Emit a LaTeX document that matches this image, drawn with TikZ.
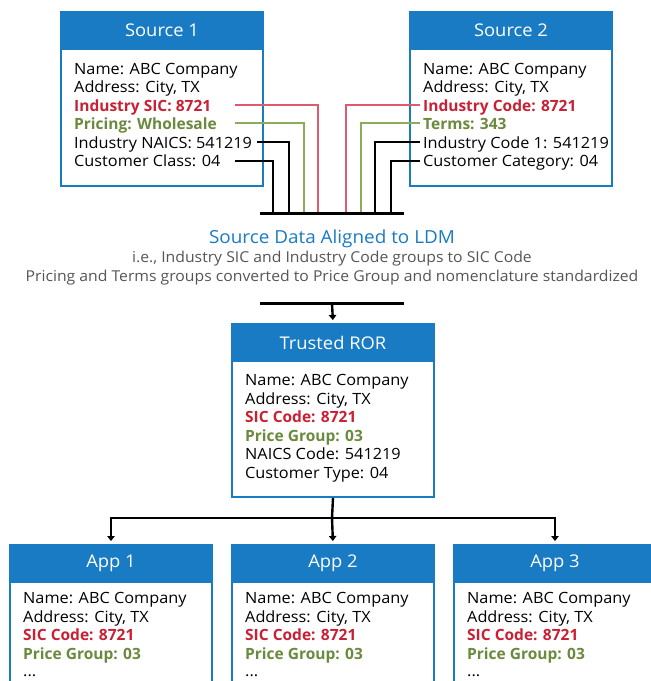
\documentclass[tikz,border=0pt]{standalone}
\usepackage{fontspec}
\setmainfont{Open Sans}
\newfontfamily\fieldfont[FakeStretch=1.05]{Open Sans}
\newfontfamily\keyfont{Open Sans}
\newfontfamily\notefont[FakeStretch=1.05]{Open Sans}
\usetikzlibrary{arrows.meta}
\definecolor{boxblue}{RGB}{24,123,195}
\definecolor{sicred}{RGB}{200,32,52}
\definecolor{pricegreen}{RGB}{106,138,62}
\definecolor{redwire}{RGB}{222,90,110}
\definecolor{greenwire}{RGB}{140,172,92}
\definecolor{notegray}{RGB}{85,85,85}
\tikzset{
  head/.style={draw=boxblue, fill=boxblue, line width=2pt, minimum width=202pt,
    minimum height=37pt, anchor=north west, inner sep=0pt, text=white,
    font=\fieldfont\fontsize{17.5}{20}\selectfont},
  panel/.style={draw=boxblue, fill=white, line width=2pt, minimum width=202pt,
    anchor=north west, inner sep=0pt},
  field/.style={anchor=base west, inner sep=0pt, font=\fieldfont\fontsize{15.5}{18}\selectfont},
  redfield/.style={field, text=sicred, font=\keyfont\fontsize{15.5}{18}\selectfont\bfseries},
  greenfield/.style={field, text=pricegreen, font=\keyfont\fontsize{15.5}{18}\selectfont\bfseries},
  wire/.style={line width=1.3pt, draw=black},
  redw/.style={wire, draw=redwire},
  greenw/.style={wire, draw=greenwire},
  busbar/.style={line width=3pt, draw=black},
  feed/.style={line width=2.4pt, draw=black, shorten >=3pt,
    -{Triangle[length=5pt,width=7.5pt]}},
  notetext/.style={anchor=base, inner sep=0pt, text=notegray,
    font=\notefont\fontsize{15}{18}\selectfont},
}
\begin{document}
\begin{tikzpicture}[x=1pt,y=-1pt]
\useasboundingbox (0,0) rectangle (651,681);
\clip (0,0) rectangle (651,681);

% ---------- Source 1 ----------
\node[panel, minimum height=137pt] (s1body) at (60,48) {};
\node[head] (s1) at (60,11) {Source 1};
\node[field]      (s1a) at (74,74)    {Name: ABC Company};
\node[field]      (s1b) at (74,92.5)  {Address: City, TX};
\node[redfield]   (s1c) at (74,111)   {Industry SIC: 8721};
\node[greenfield] (s1d) at (74,129.5) {Pricing: Wholesale};
\node[field]      (s1e) at (74,148)   {Industry NAICS: 541219};
\node[field]      (s1f) at (74,166.5) {Customer Class: 04};

% ---------- Source 2 ----------
\node[panel, minimum height=137pt] (s2body) at (409,48) {};
\node[head] (s2) at (409,11) {Source 2};
\node[field]      (s2a) at (423,74)    {Name: ABC Company};
\node[field]      (s2b) at (423,92.5)  {Address: City, TX};
\node[redfield]   (s2c) at (423,111)   {Industry Code: 8721};
\node[greenfield] (s2d) at (423,129.5) {Terms: 343};
\node[field]      (s2e) at (423,148)   {Industry Code 1: 541219};
\node[field]      (s2f) at (423,166.5) {Customer Category: 04};

% ---------- wires into the merge bar ----------
\coordinate (s1cw) at (235,105);  \coordinate (s1cd) at (318,213);
\coordinate (s1dw) at (235,123);  \coordinate (s1dd) at (304,213);
\coordinate (s1ew) at (257,142);  \coordinate (s1ed) at (289,213);
\coordinate (s1fw) at (235,161);  \coordinate (s1fd) at (273,213);
\coordinate (s2cw) at (420,105);  \coordinate (s2cd) at (346,213);
\coordinate (s2dw) at (420,123);  \coordinate (s2dd) at (361,213);
\coordinate (s2ew) at (420,142);  \coordinate (s2ed) at (375,213);
\coordinate (s2fw) at (420,161);  \coordinate (s2fd) at (391,213);
\draw[redw]   (s1cw) -| (s1cd);
\draw[greenw] (s1dw) -| (s1dd);
\draw[wire]   (s1ew) -| (s1ed);
\draw[wire]   (s1fw) -| (s1fd);
\draw[redw]   (s2cw) -| (s2cd);
\draw[greenw] (s2dw) -| (s2dd);
\draw[wire]   (s2ew) -| (s2ed);
\draw[wire]   (s2fw) -| (s2fd);
\coordinate (bar1l) at (260,213);
\coordinate (bar1r) at (404,213);
\draw[busbar] (bar1l) -- (bar1r);

% ---------- alignment note ----------
\node[anchor=base, inner sep=0pt, text=boxblue, font=\fieldfont\fontsize{18}{21}\selectfont]
  (ldm) at (332,243) {Source Data Aligned to LDM};
\node[notetext] (note1) at (332,262) {i.e., Industry SIC and Industry Code groups to SIC Code};
\node[notetext] (note2) at (332,281) {Pricing and Terms groups converted to Price Group and nomenclature standardized};

\coordinate (bar2l) at (260,303);
\coordinate (bar2r) at (404,303);
\coordinate (bar2m) at (332,303);
\draw[busbar] (bar2l) -- (bar2r);

% ---------- Trusted ROR ----------
\node[panel, minimum height=136pt] (rorbody) at (231,360) {};
\node[head] (ror) at (231,323) {Trusted ROR};
\node[field]      (ra) at (245,385.5) {Name: ABC Company};
\node[field]      (rb) at (245,404)   {Address: City, TX};
\node[redfield]   (rc) at (245,422.5) {SIC Code: 8721};
\node[greenfield] (rd) at (245,441)   {Price Group: 03};
\node[field]      (re) at (245,459.5) {NAICS Code: 541219};
\node[field]      (rf) at (245,478)   {Customer Type: 04};

\draw[feed] (bar2m) -- (ror.north);

% ---------- Apps ----------
\node[panel, minimum height=130pt] (app1body) at (9,581) {};
\node[head] (app1) at (9,544) {App 1};
\node[field]      (a1a) at (23,603.5) {Name: ABC Company};
\node[field]      (a1b) at (23,622)   {Address: City, TX};
\node[redfield]   (a1c) at (23,640.5) {SIC Code: 8721};
\node[greenfield] (a1d) at (23,659)   {Price Group: 03};
\node[field]      (a1e) at (23,676)   {...};

\node[panel, minimum height=130pt] (app2body) at (231,581) {};
\node[head] (app2) at (231,544) {App 2};
\node[field]      (a2a) at (245,603.5) {Name: ABC Company};
\node[field]      (a2b) at (245,622)   {Address: City, TX};
\node[redfield]   (a2c) at (245,640.5) {SIC Code: 8721};
\node[greenfield] (a2d) at (245,659)   {Price Group: 03};
\node[field]      (a2e) at (245,676)   {...};

\node[panel, minimum height=130pt] (app3body) at (453,581) {};
\node[head] (app3) at (453,544) {App 3};
\node[field]      (a3a) at (467,603.5) {Name: ABC Company};
\node[field]      (a3b) at (467,622)   {Address: City, TX};
\node[redfield]   (a3c) at (467,640.5) {SIC Code: 8721};
\node[greenfield] (a3d) at (467,659)   {Price Group: 03};
\node[field]      (a3e) at (467,676)   {...};

% ---------- fan-out to the apps ----------
\coordinate (split) at (332,518);
\draw[line width=2.4pt] (rorbody.south) -- (split);
\draw[feed] (split) -| (app1.north);
\draw[feed] (split) -- (app2.north);
\draw[feed] (split) -| (app3.north);
\end{tikzpicture}
\end{document}
